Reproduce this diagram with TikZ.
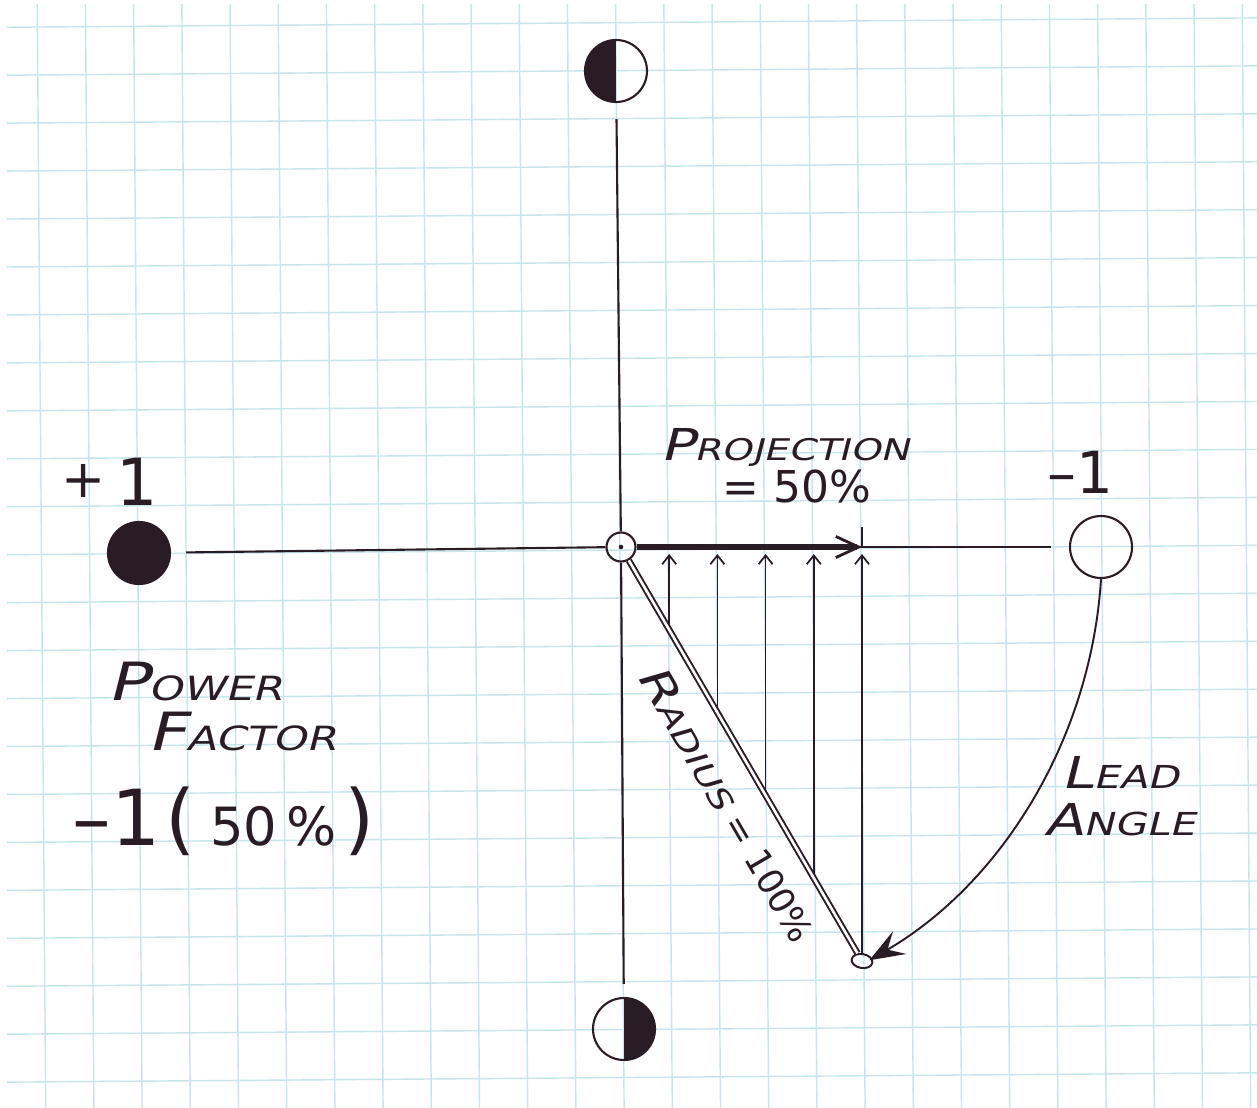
\documentclass[tikz,border=0pt]{standalone}
\usepackage{fontspec}
\setmainfont{DejaVu Sans}
\newfontfamily\handfont[FakeSlant=0.25,FakeStretch=1.3]{DejaVu Sans}
\usepackage{xcolor}
\usetikzlibrary{arrows.meta,calc,shapes.geometric}
\definecolor{ink}{RGB}{42,28,36}
\definecolor{gridblue}{RGB}{198,229,237}
\newcommand{\initcap}[2]{{\fontsize{#1}{#1}\selectfont #2}}

\begin{document}
\begin{tikzpicture}[x=0.02cm,y=-0.02cm,
  gridline/.style={gridblue,line width=0.8pt},
  inkline/.style={ink,line width=1.2pt},
  riser/.style={ink,line width=1pt,-{Straight Barb[length=5pt,width=8pt]},shorten >=4pt},
  pole/.style={circle,draw=ink,line width=1.2pt,minimum size=1.24cm,inner sep=0pt},
  halfleft/.style={pole,path picture={\fill[ink] (path picture bounding box.south west) rectangle (path picture bounding box.north);}},
  halfright/.style={pole,path picture={\fill[ink] (path picture bounding box.south) rectangle (path picture bounding box.north east);}},
  lettering/.style={ink,anchor=base,font=\handfont\fontsize{#1}{#1}\selectfont},
  figures/.style={ink,anchor=base,font=\fontsize{#1}{#1}\selectfont}]
\useasboundingbox (0,0) rectangle (1257,1108);
\fill[white] (0,0) rectangle (1257,1108);
% graph paper
\begin{scope}
\clip (7,5) rectangle (1257,1108);
\foreach \k in {0,...,25}
  \draw[gridline] (37.2+48.2*\k,0) -- (45.7+48.2*\k,1108);
\foreach \k in {0,...,23}
  \draw[gridline] (0,27.3+47.95*\k) -- (1257,17.9+47.95*\k);
\end{scope}
% poles and centre
\node[halfleft] (top) at (616,71) {};
\node[halfright] (bottom) at (624,1029) {};
\node[pole,fill=ink] (plus) at (139,553) {};
\node[pole] (minus) at (1101,547) {};
\node[circle,draw=ink,line width=1.2pt,minimum size=0.58cm,inner sep=0pt] (origin) at (621,547) {};
\fill[ink] (origin) circle[radius=1.3pt];
\node[ellipse,draw=ink,line width=1.1pt,minimum width=0.42cm,minimum height=0.28cm,inner sep=0pt,rotate=-10] (tip) at (862,961) {};
\coordinate (projend) at (tip |- origin);
\coordinate (ticktop) at ($(projend)+(0,-20)$);
% axes
\draw[inkline,shorten <=0.32cm] (top) -- (origin);
\draw[inkline,shorten >=0.26cm] (origin) -- (bottom);
\draw[inkline,shorten <=0.3cm] (plus) -- (origin);
\draw[inkline,shorten >=0.36cm] (origin) -- (minus);
% projection of the radius
\foreach \i in {1,...,4} {
  \coordinate (foot\i) at ($(origin)!\i/5!(tip)$);
  \draw[riser] (foot\i) -- (foot\i |- origin);
}
\draw[riser] (tip) -- (projend);
\draw[ink,line width=1pt] (projend) -- (ticktop);
\draw[ink,line width=3pt,-{Straight Barb[length=13pt,width=12pt,line width=1.6pt]}] (origin) -- (projend);
\draw[ink,line width=1.1pt,double=white,double distance=1.5pt] (origin) -- (tip);
% lead angle
\draw[ink,line width=1.1pt,-{Stealth[length=20pt,width=15pt,inset=8pt]},shorten >=0.12cm]
  (minus.south) arc[start angle=3.6,end angle=59.7,radius=480];
% labels
\node[figures=37] (pluslabel) at (110,505) {\raisebox{4pt}{\initcap{30}{+}}\,1};
\node[figures=33] (minuslabel) at (1080,493) {–1};
\node[lettering=17] (projlabel) at (785,460) {\initcap{25}{P}ROJECTION};
\node[figures=25] (projvalue) at (797,502) {= 50\%};
\node[lettering=19] (pfword) at (195,700) {\initcap{30}{P}OWER};
\node[lettering=19] (pfword2) at (242,750) {\initcap{30}{F}ACTOR};
\node[figures=44] (pfvalue) at (224,845)
  {–1\hspace{3pt}(\initcap{30}{\hspace{8pt}50\hspace{5pt}\%\hspace{5pt}})};
\node[ink,rotate=-59.7,font=\handfont\fontsize{17}{17}\selectfont] (radiuslabel) at (728,803)
  {\initcap{24}{R}ADIUS {\rmfamily\fontsize{20}{20}\selectfont = 100\%}};
\node[lettering=18] (leadword) at (1120,788) {\initcap{25}{L}EAD};
\node[lettering=18] (leadword2) at (1120,835) {\initcap{25}{A}NGLE};
\end{tikzpicture}
\end{document}
